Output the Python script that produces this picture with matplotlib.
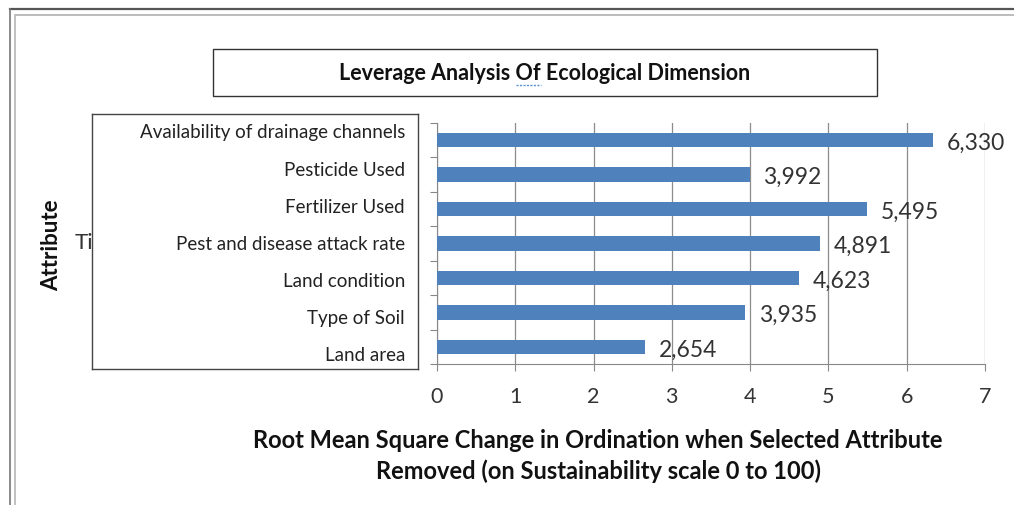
import matplotlib
matplotlib.use("Agg")
import matplotlib.pyplot as plt
from matplotlib.patches import Rectangle
from matplotlib.lines import Line2D

plt.rcParams['font.family'] = ['Lato', 'DejaVu Sans']

# data (bottom to top)
attributes = ["Land area", "Type of Soil", "Land condition",
              "Pest and disease attack rate", "Fertilizer Used",
              "Pesticide Used", "Availability of drainage channels"]
rms_change = [2.654, 3.935, 4.623, 4.891, 5.495, 3.992, 6.330]
value_labels = ["2,654", "3,935", "4,623", "4,891", "5,495", "3,992", "6,330"]

W, H = 1014, 506
fig = plt.figure(figsize=(W / 100, H / 100), dpi=100)

def fx(px):
    return px / W

def fy(py):
    return 1 - py / H

# window-like frame lines
fig.add_artist(Line2D([fx(10), 1], [fy(10), fy(10)], color="#555555", lw=1.6))
fig.add_artist(Line2D([fx(16), 1], [fy(16), fy(16)], color="#b0b0b0", lw=1.2))
fig.add_artist(Line2D([fx(10), fx(10)], [fy(10), 0], color="#777777", lw=1.2))
fig.add_artist(Line2D([fx(15), fx(15)], [fy(16), 0], color="#b8b8b8", lw=1.2))

ax = fig.add_axes([fx(437), fy(365), fx(985) - fx(437), fy(124) - fy(365)])
y = list(range(len(attributes)))
ax.barh(y, rms_change, height=0.42, color="#4F81BD", zorder=3)
for yi, v, lab in zip(y, rms_change, value_labels):
    ax.annotate(lab, (v, yi), xytext=(10, -1.5), textcoords="offset points",
                va="center", ha="left", fontsize=16.5, color="#333333")

ax.set_xlim(0, 7)
ax.set_ylim(-0.5, 6.5)
ax.set_xticks(range(8))
ax.tick_params(axis="x", labelsize=15.5, colors="#333333", length=5,
               color="#888888", pad=11)
ax.set_yticks([i - 0.5 for i in range(len(attributes) + 1)])
ax.set_yticklabels([])
ax.tick_params(axis="y", length=5, color="#888888")
ax.grid(axis="x", color="#8c8c8c", lw=0.9, zorder=0)
for s in ["top", "right"]:
    ax.spines[s].set_visible(False)
for s in ["left", "bottom"]:
    ax.spines[s].set_color("#888888")

# partially hidden axis title behind the label box
fig.text(fx(75), fy(243), "Title", fontsize=16, color="#333333",
         va="center", ha="left", zorder=-3)

# label box with the category names
box = fig.add_axes([fx(92), fy(370), fx(418) - fx(92), fy(115) - fy(370)],
                   zorder=1)
box.set_xlim(0, 1)
box.set_ylim(-0.377, 6.484)
box.set_xticks([])
box.set_yticks([])
for s in box.spines.values():
    s.set_color("#444444")
    s.set_linewidth(1.0)
for yi, name in zip(y, attributes):
    box.text(0.96, yi, name, ha="right", va="center", fontsize=13.5,
             color="#222222")

fig.text(fx(52), fy(245), "Attribute", rotation=90, fontsize=16,
         fontweight="bold", va="center", ha="center", color="#111111")

fig.text(fx(598), fy(456),
         "Root Mean Square Change in Ordination when Selected Attribute\n"
         "Removed (on Sustainability scale 0 to 100)",
         fontsize=17, fontweight="bold", ha="center", va="center",
         linespacing=1.4, color="#111111")

# title box
fig.add_artist(Rectangle((fx(213), fy(97)), fx(877) - fx(213), fy(50) - fy(97),
                         facecolor="white", edgecolor="#333333", lw=1.0))
fig.text(fx(545), fy(73), "Leverage Analysis Of Ecological Dimension",
         fontsize=15.5, fontweight="bold", ha="center", va="center",
         color="#111111")
fig.add_artist(Line2D([fx(516), fx(541)], [fy(86), fy(86)], color="#5a8fd6",
                      lw=1.0, ls=(0, (1.5, 1))))

fig.savefig("out.png", dpi=100)
